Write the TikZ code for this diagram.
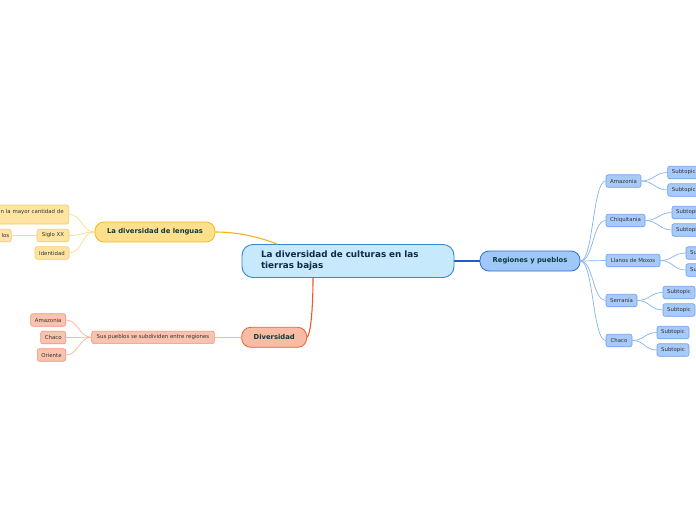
\documentclass[tikz,border=0pt]{standalone}
\usepackage{fontspec}
\setmainfont{DejaVu Sans}
\usetikzlibrary{calc}
\definecolor{cfill}{HTML}{C6EAFB}
\definecolor{cdraw}{HTML}{2F8AD6}
\definecolor{ctext}{HTML}{10284A}
\definecolor{bfill}{HTML}{9FC8F8}
\definecolor{bdraw}{HTML}{2A6FD8}
\definecolor{bsfill}{HTML}{A8CAF8}
\definecolor{bsdraw}{HTML}{6EA2EC}
\definecolor{bline}{HTML}{86B4EF}
\definecolor{bmain}{HTML}{1C5FC8}
\definecolor{yfill}{HTML}{FDDF8C}
\definecolor{ydraw}{HTML}{F6B81C}
\definecolor{ysfill}{HTML}{FDE4A2}
\definecolor{ysdraw}{HTML}{F8CD6A}
\definecolor{yline}{HTML}{FDDB8A}
\definecolor{ymain}{HTML}{F6B21C}
\definecolor{rfill}{HTML}{F8BBA4}
\definecolor{rdraw}{HTML}{EE5F30}
\definecolor{rsfill}{HTML}{F9C3AF}
\definecolor{rsdraw}{HTML}{F3947A}
\definecolor{rline}{HTML}{F9B59E}
\definecolor{rmain}{HTML}{F0582A}
\definecolor{ltext}{HTML}{0D3B3B}
\definecolor{stext}{HTML}{333333}
\begin{document}
\begin{tikzpicture}[x=1pt,y=-1pt,
  centralbox/.style={draw=cdraw,fill=cfill,line width=0.9pt,rounded corners=11pt,
    minimum width=212pt,minimum height=33pt,text width=174pt,align=left,
    inner xsep=19pt,inner ysep=0pt,text=ctext,
    font=\fontsize{8.8}{11}\selectfont\bfseries},
  lvlone/.style={line width=0.8pt,rounded corners=9pt,minimum height=20pt,
    inner sep=0pt,text=ltext,font=\fontsize{6.8}{8}\selectfont\bfseries},
  smallbox/.style={line width=0.6pt,rounded corners=2pt,minimum height=12.5pt,
    inner sep=0pt,text=stext,font=\fontsize{5.4}{6.8}\selectfont},
  bsub/.style={smallbox,draw=bsdraw,fill=bsfill},
  ysub/.style={smallbox,draw=ysdraw,fill=ysfill},
  rsub/.style={smallbox,draw=rsdraw,fill=rsfill},
  bcon/.style={draw=bline,line width=0.7pt},
  ycon/.style={draw=yline,line width=0.7pt},
  rcon/.style={draw=rline,line width=0.7pt}
]
\useasboundingbox (0,0) rectangle (696,520);
\fill[white] (0,0) rectangle (696,520);
\begin{scope}
\clip (0,0) rectangle (696,520);
% central
\node[centralbox] (c) at (348,261) {La diversidad de culturas en las\\tierras bajas};
% level one
\node[lvlone,draw=bdraw,fill=bfill,minimum width=100pt] (reg) at (530,261) {Regiones y pueblos};
\node[lvlone,draw=ydraw,fill=yfill,minimum width=120pt] (len) at (155,232) {La diversidad de lenguas};
\node[lvlone,draw=rdraw,fill=rfill,minimum width=65pt] (div) at (274.2,337.3) {Diversidad};
% right children
\node[bsub,minimum width=35pt] (amz) at (623.5,181) {Amazonia};
\node[bsub,minimum width=39pt] (chq) at (625.5,220.5) {Chiquitania};
\node[bsub,minimum width=54pt] (lla) at (633,260.5) {Llanos de Moxos};
\node[bsub,minimum width=31pt] (ser) at (621.5,300.5) {Serranía};
\node[bsub,minimum width=26pt] (cha) at (619,340.5) {Chaco};
% subtopics
\node[bsub,minimum width=32pt] (a1) at (683.7,172.5) {Subtopic};
\node[bsub,minimum width=32pt] (a2) at (683.7,190) {Subtopic};
\node[bsub,minimum width=32pt] (q1) at (688,212.5) {Subtopic};
\node[bsub,minimum width=32pt] (q2) at (688,230) {Subtopic};
\node[bsub,minimum width=32pt] (l1) at (702,253) {Subtopic};
\node[bsub,minimum width=32pt] (l2) at (702,270) {Subtopic};
\node[bsub,minimum width=32pt] (s1) at (679,292.5) {Subtopic};
\node[bsub,minimum width=32pt] (s2) at (679,310) {Subtopic};
\node[bsub,minimum width=32pt] (h1) at (673,332.5) {Subtopic};
\node[bsub,minimum width=32pt] (h2) at (673,350) {Subtopic};
% left children (lenguas)
\node[ysub,anchor=east,minimum height=19pt,text width=90pt,align=right,inner xsep=5pt] (t1) at (69,214.5) {n la mayor cantidad de\\[-1pt]~};
\node[ysub,minimum width=32pt] (sig) at (53,235.5) {Siglo XX};
\node[ysub,anchor=east,text width=22pt,align=right,inner xsep=2pt] (los) at (11.5,235.5) {los};
\node[ysub,minimum width=34pt] (ide) at (52,253) {Identidad};
% diversidad children
\node[rsub,minimum width=122.6pt] (sus) at (153,337.3) {Sus pueblos se subdividen entre regiones};
\node[rsub,minimum width=35pt] (ra) at (48.2,320) {Amazonia};
\node[rsub,minimum width=25pt] (rc) at (53.2,337.5) {Chaco};
\node[rsub,minimum width=28.4pt] (ro) at (51.5,355) {Oriente};
% main connectors
\draw[bmain,line width=1.1pt] (c.east) -- (reg.west);
\draw[ymain,line width=1.1pt] (len.east) .. controls +(25,0) and +(-15,-6) .. ($(c.north)+(-71,0)$);
\draw[rmain,line width=1.1pt] ($(c.south)+(-35,0)$) .. controls +(0,35) and +(3,-2) .. (div.east);
% right connectors
\foreach \n in {amz,chq,lla,ser,cha}
  \draw[bcon] (reg.east) .. controls +(13,0) and +(-13,0) .. (\n.west);
\foreach \p/\a/\b in {amz/a1/a2,chq/q1/q2,lla/l1/l2,ser/s1/s2,cha/h1/h2}{
  \draw[bcon] (\p.east) .. controls +(12,0) and +(-12,0) .. (\a.west);
  \draw[bcon] (\p.east) .. controls +(12,0) and +(-12,0) .. (\b.west);
}
% left connectors
\foreach \n in {t1,sig,ide}
  \draw[ycon] (len.west) .. controls +(-13,0) and +(13,0) .. (\n.east);
\draw[ycon] (sig.west) -- (los.east);
\draw[rcon] (div.west) -- (sus.east);
\foreach \n in {ra,rc,ro}
  \draw[rcon] (sus.west) .. controls +(-12,0) and +(12,0) .. (\n.east);
\end{scope}
\end{tikzpicture}
\end{document}
